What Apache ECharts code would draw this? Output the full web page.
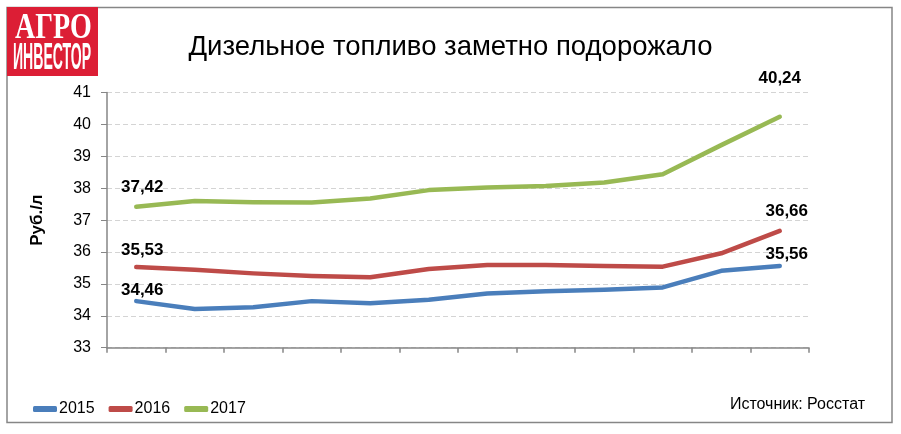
<!DOCTYPE html>
<html>
<head>
<meta charset="utf-8">
<script src="https://cdn.jsdelivr.net/npm/echarts@6/dist/echarts.min.js"></script>
<style>
html,body{margin:0;padding:0;background:#fff;}
#chart{width:901px;height:434px;}
</style>
</head>
<body>
<div id="chart"></div>
<script>
const months = ['янв','фев','мар','апр','май','июн','июл','авг','сен','окт','ноя','дек'];
const yTicks = [33, 34, 35, 36, 37, 38, 39, 40, 41];
const seriesNames = ['2015', '2016', '2017'];
const values2015 = [34.46, 34.21, 34.27, 34.46, 34.39, 34.50, 34.70, 34.77, 34.82, 34.89, 35.41, 35.56];
const values2016 = [35.53, 35.44, 35.33, 35.25, 35.21, 35.47, 35.59, 35.59, 35.56, 35.54, 35.96, 36.66];
const values2017 = [37.42, 37.60, 37.56, 37.55, 37.68, 37.94, 38.02, 38.07, 38.18, 38.44, 39.35, 40.24];
const titleText = 'Дизельное топливо заметно подорожало';
const yAxisName = 'Руб./л';
const sourceText = 'Источник: Росстат';

const colors = ['#4A7EBB', '#BE4B48', '#98B954'];
const allValues = [values2015, values2016, values2017];
// label offsets [first, last] per series
const labelOffsets = [
  [[6, 6], [7, 5]],
  [[6, 0], [7, -3]],
  [[6, -3], [0, -22]]
];

function fmt(v){ return v.toFixed(2).replace('.', ','); }

function buildData(vals, si){
  return vals.map((v, i) => {
    if (i === 0 || i === vals.length - 1) {
      const off = labelOffsets[si][i === 0 ? 0 : 1];
      return {
        value: v,
        label: {
          show: true, position: 'top', distance: 8, offset: off,
          formatter: fmt(v),
          fontFamily: 'Liberation Sans, Arial, sans-serif',
          fontSize: 17, fontWeight: 'bold', color: '#000'
        }
      };
    }
    return v;
  });
}

const chart = echarts.init(document.getElementById('chart'), null, {renderer: 'canvas'});
const option = {
  backgroundColor: '#fff',
  animation: false,
  textStyle: {fontFamily: 'Liberation Sans, Arial, sans-serif'},
  title: {
    text: titleText,
    left: 'center',
    top: 28,
    textStyle: {fontFamily: 'Liberation Sans, Arial, sans-serif', fontSize: 27.5, fontWeight: 'normal', color: '#000'}
  },
  grid: {left: 107, right: 92, top: 92.5, bottom: 86.3, containLabel: false},
  legend: {
    left: 28, top: 396,
    itemWidth: 24, itemHeight: 6, itemGap: 14,
    icon: 'roundRect',
    textStyle: {fontSize: 16, color: '#000', padding: [0, 0, 0, -3]},
    data: seriesNames
  },
  xAxis: {
    type: 'category',
    data: months,
    boundaryGap: true,
    axisLine: {lineStyle: {color: '#868686', width: 1.5}},
    axisTick: {show: true, length: 5, lineStyle: {color: '#868686', width: 1.5}},
    axisLabel: {show: false},
    splitLine: {show: false}
  },
  yAxis: {
    type: 'value',
    min: yTicks[0], max: yTicks[yTicks.length - 1], interval: 1,
    name: yAxisName,
    nameLocation: 'middle',
    nameRotate: 90,
    nameGap: 61,
    nameTextStyle: {fontSize: 17, fontWeight: 'bold', color: '#000'},
    axisLine: {show: true, lineStyle: {color: '#868686', width: 1.5}},
    axisTick: {show: true, length: 6, lineStyle: {color: '#868686', width: 1}},
    axisLabel: {fontSize: 16, color: '#000', margin: 16},
    splitLine: {show: true, lineStyle: {color: '#D4D4D4', type: [5, 3], width: 1}}
  },
  series: seriesNames.map((n, si) => ({
    name: n,
    type: 'line',
    data: buildData(allValues[si], si),
    color: colors[si],
    symbol: 'circle',
    symbolSize: 0,
    showSymbol: true,
    itemStyle: {color: colors[si]},
    lineStyle: {width: 4.5, color: colors[si], cap: 'round', join: 'round'},
    label: {show: false},
    z: 3
  })),
  graphic: [
    {type: 'rect', shape: {x: 7, y: 7.5, width: 885, height: 415}, style: {fill: 'none', stroke: '#868686', lineWidth: 1.5}, z: 0, silent: true},
    {type: 'rect', shape: {x: 7, y: 7, width: 91, height: 69}, style: {fill: '#DC1E35'}, z: 10},
    {type: 'text', x: 15, y: 11, scaleX: 0.8, style: {text: 'АГРО', fill: '#fff', font: 'bold 35px "Liberation Serif", "DejaVu Serif", serif'}, z: 11},
    {type: 'text', x: 13, y: 40, scaleX: 0.38, style: {text: 'ИНВЕСТОР', fill: '#fff', font: 'bold 37px "Liberation Sans", Arial, sans-serif'}, z: 11},
    {type: 'text', right: 36, top: 397, style: {text: sourceText, fill: '#000', font: '16px "Liberation Sans", Arial, sans-serif'}, z: 11}
  ]
};
chart.setOption(option);
</script>
</body>
</html>
